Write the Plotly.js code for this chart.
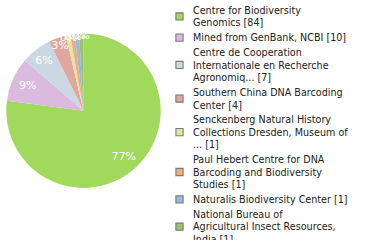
<!DOCTYPE html>
<html><head><meta charset="utf-8">
<script src="https://cdn.plot.ly/plotly-3.0.1.min.js"></script>
<style>html,body{margin:0;padding:0;background:#fff;}#chart{width:380px;height:240px;}</style>
</head><body><div id="chart"></div>
<script>
const labels = [
  "Centre for Biodiversity<br>Genomics [84]",
  "Mined from GenBank, NCBI [10]",
  "Centre de Cooperation<br>Internationale en Recherche<br>Agronomiq... [7]",
  "Southern China DNA Barcoding<br>Center [4]",
  "Senckenberg Natural History<br>Collections Dresden, Museum of<br>... [1]",
  "Paul Hebert Centre for DNA<br>Barcoding and Biodiversity<br>Studies [1]",
  "Naturalis Biodiversity Center [1]",
  "National Bureau of<br>Agricultural Insect Resources,<br>India [1]"
];
const values = [84, 10, 7, 4, 1, 1, 1, 1];
const pctText = ["77%", "9%", "6%", "3%", "0%", "0%", "0%", "0%"];
const colors = ["#a0d95b", "#dbbadf", "#cbd8e3", "#e0a79c", "#dfe6a1", "#efad79", "#97b8df", "#9bc271"];

const pieDomain = {x: [5/380, 162/380], y: [1 - 187/240, 1 - 30/240]};

const slices = {
  type: "pie",
  labels: labels,
  values: values,
  textinfo: "none",
  sort: false,
  direction: "clockwise",
  rotation: 0,
  marker: {colors: colors, line: {width: 0}},
  domain: pieDomain,
  hoverinfo: "none"
};

const pctLabels = {
  type: "pie",
  labels: labels,
  values: values,
  text: pctText,
  textinfo: "text",
  textposition: "inside",
  insidetextorientation: "horizontal",
  sort: false,
  direction: "clockwise",
  rotation: 0,
  hole: 0.58,
  showlegend: false,
  marker: {colors: values.map(() => "rgba(0,0,0,0)"), line: {width: 0}},
  textfont: {family: "DejaVu Sans", size: 11, color: "#ffffff"},
  domain: pieDomain,
  hoverinfo: "none"
};

const layout = {
  width: 380, height: 240,
  margin: {l: 0, r: 0, t: 0, b: 0},
  paper_bgcolor: "#ffffff",
  showlegend: true,
  uniformtext: {mode: "show", minsize: 11},
  legend: {
    x: 153/380, y: 1 + 4/240, xanchor: "left", yanchor: "top",
    font: {family: "DejaVu Sans", size: 9.6, color: "#222222"},
    bgcolor: "rgba(0,0,0,0)",
    tracegroupgap: 0,
    itemwidth: 30,
    maxheight: 1000
  }
};

const LEGEND_LINE = 12.48, LEGEND_GAP = 2.4, LEGEND_SHIFT = -2.5;

Plotly.newPlot("chart", [slices, pctLabels], layout, {staticPlot: true, displayModeBar: false}).then(function () {
  document.querySelectorAll("#chart .legendpoints path").forEach(function (p) {
    p.setAttribute("transform", "translate(26.5,0) scale(0.6)");
    p.style.stroke = "#7a7a7a";
    p.style.strokeWidth = "1.8px";
  });
  const items = Array.from(document.querySelectorAll("#chart .legend .traces"));
  let top0 = null, acc = 0;
  items.forEach(function (g, i) {
    const m = /translate\(\s*([-\d.e]+)[ ,]+([-\d.e]+)\s*\)/.exec(g.getAttribute("transform") || "");
    if (!m) return;
    const x = parseFloat(m[1]), y = parseFloat(m[2]);
    const nLines = labels[i].split("<br>").length;
    const half = (nLines - 1) * LEGEND_LINE / 2;
    if (top0 === null) top0 = y - half;
    g.setAttribute("transform", "translate(" + x + "," + (top0 + LEGEND_SHIFT + acc + half) + ")");
    acc += nLines * LEGEND_LINE + LEGEND_GAP;
  });
});
</script></body></html>
